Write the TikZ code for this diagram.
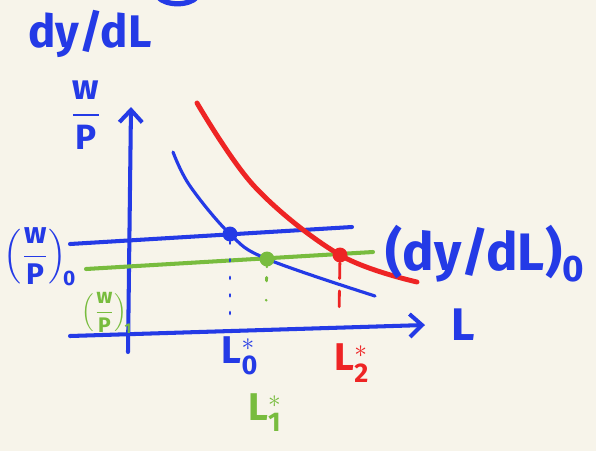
\documentclass[tikz,border=0pt]{standalone}
\usepackage{amsmath}
\usepackage{fontspec}
\setsansfont{Fira Sans}
\usepackage{tikz}
\usetikzlibrary{arrows.meta}
\definecolor{paper}{RGB}{247, 244, 234}
\definecolor{pen}{RGB}{36, 58, 230}
\definecolor{redpen}{RGB}{238, 36, 36}
\definecolor{greenpen}{RGB}{120, 188, 62}

\begin{document}
\begin{tikzpicture}[
   x=0.02cm, y=-0.02cm,
   axis/.style={draw=pen, line width=2.3, line cap=round,
                -{Straight Barb[length=7pt, width=13pt, line width=2.3pt]}},
   level/.style={line width=2.3, line cap=round},
   curve/.style={line width=1.8, line cap=round},
   dotn/.style={circle, inner sep=0, minimum size=8.5},
   drop/.style={line width=1.6, line cap=round},
   hand/.style={font=\sffamily\bfseries\fontsize{#1}{#1}\selectfont, inner sep=0},
   hand/.default=24
  ]

  \fill[paper] (0, 0) rectangle (596, 451);
  \useasboundingbox (0, 0) rectangle (596, 451);

  % axes
  \coordinate (O1) at (128, 352);
  \coordinate (Ytop) at (131, 107);
  \coordinate (X0) at (70, 336);
  \coordinate (Xend) at (425, 325);
  \draw[axis] (O1) -- (Ytop);
  \draw[axis] (X0) -- (Xend);

  % wage levels
  \coordinate (w0L) at (70, 244);
  \coordinate (w0R) at (352, 227);
  \coordinate (w1L) at (86, 269);
  \coordinate (w1R) at (373, 252);
  \draw[level, pen] (w0L) -- (w0R);
  \draw[level, greenpen] (w1L) -- (w1R);

  % dy/dL curves
  \coordinate (bs) at (173, 152);
  \coordinate (bm) at (190, 186);
  \coordinate (e0) at (230, 234);
  \coordinate (e1) at (267, 259);
  \coordinate (be) at (375, 296);
  \coordinate (rs) at (197, 103);
  \coordinate (rm) at (255, 187);
  \coordinate (e2) at (340, 255);
  \coordinate (re) at (417, 282);
  \draw[curve, pen] plot[smooth, tension=0.6] coordinates {(bs) (bm) (e0) (e1) (be)};
  \draw[curve, redpen, line width=2.8] plot[smooth, tension=0.6] coordinates {(rs) (rm) (e2) (re)};

  \node (D0) at (e0) [dotn, fill=pen] {};
  \node (D1) at (e1) [dotn, fill=greenpen] {};
  \node (D2) at (e2) [dotn, fill=redpen] {};

  \coordinate (f0) at (230, 318);
  \coordinate (f1) at (266, 308);
  \coordinate (f2) at (339, 318);
  \draw[drop, pen, dash pattern=on 1pt off 9pt] (D0) -- (f0);
  \draw[drop, greenpen, dash pattern=on 0pt off 6pt on 2pt off 11pt] (D1) -- (f1);
  \draw[drop, redpen, dash pattern=on 9pt off 7pt] (D2) -- (f2);

  % scribble at the top edge
  \coordinate (arcL) at (158, -3);
  \coordinate (arcR) at (197, -3);
  \draw[curve, pen, line width=3] (arcL) .. controls (166, 6) and (189, 6) .. (arcR);

  % labels
  \node (title) at (90, 34) [hand=26, text=pen] {dy/dL};
  \node (wp) at (86, 115) [hand=20, text=pen] {$\dfrac{\textsf{w}}{\textsf{P}}$};
  \node (wp0) at (40, 257) [hand=17, text=pen] {$\left(\dfrac{\textsf{w}}{\textsf{P}}\right)_{\!\textsf{0}}$};
  \node (wp1) at (107, 313) [hand=12, text=greenpen] {$\left(\dfrac{\textsf{w}}{\textsf{P}}\right)_{\!\textsf{1}}$};
  \node (Lax) at (463, 325) [hand=26, text=pen] {L};
  \node (L0) at (240, 356) [hand=22, text=pen] {L$_{\textsf{0}}^{*}$};
  \node (L2) at (352, 363) [hand=22, text=redpen] {L$_{\textsf{2}}^{*}$};
  \node (L1) at (265, 413) [hand=22, text=greenpen] {L$_{\textsf{1}}^{*}$};
  \node (mpl0) at (485, 254) [hand=30, text=pen] {(dy/dL)$_{\textsf{0}}$};

\end{tikzpicture}
\end{document}
